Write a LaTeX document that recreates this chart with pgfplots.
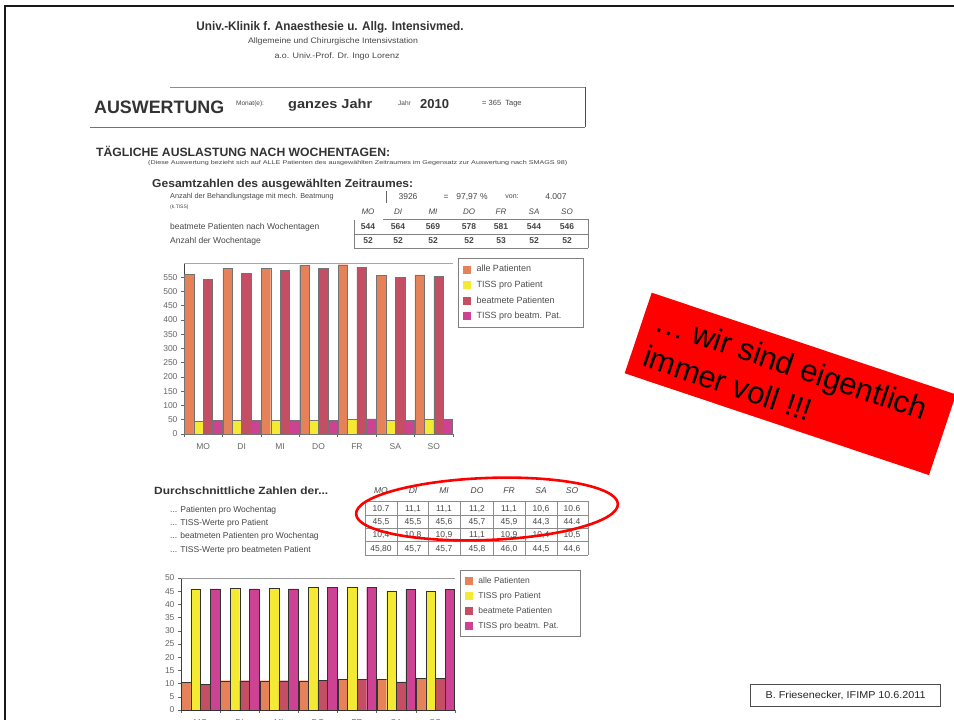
\documentclass[border=0pt]{standalone}
\usepackage{fontspec}
\setmainfont{Liberation Sans}
\usepackage{graphicx}
\usepackage{pgfplots}
\pgfplotsset{compat=1.18}
\definecolor{scan}{RGB}{70,70,70}
\definecolor{orangeC}{RGB}{230,130,90}
\definecolor{yellowC}{RGB}{244,234,52}
\definecolor{roseC}{RGB}{196,78,100}
\definecolor{magentaC}{RGB}{206,66,148}
\newcommand{\fs}[2]{\fontsize{#1}{#2}\selectfont}
\newcommand{\lb}[1]{\makebox[100pt][l]{#1}}
\newcommand{\rw}[2]{\resizebox{#1pt}{\height}{#2}}

\pgfplotsset{
  scanbar/.style={
    scale only axis, anchor=south west,
    xmin=-0.5, xmax=6.5, ymin=0,
    axis x line*=bottom, axis y line*=left,
    axis line style={black!75, line width=0.7pt},
    xtick={-0.5,0.5,...,6.5}, xticklabels={},
    extra x ticks={0,1,2,3,4,5,6},
    extra x tick labels={MO,DI,MI,DO,FR,SA,SO},
    extra x tick style={major tick length=0pt},
    xticklabel style={yshift=-6pt},
    tick align=outside, major tick length=3pt,
    tick style={black!60, line width=0.5pt},
    tick label style={font=\fs{8.5}{10}, text=black!60},
    /pgf/number format/assume math mode=true,
    legend cell align=left,
    clip=false,
  },
  bO/.style={ybar, bar width=0.245, bar shift=-0.3675, fill=orangeC, draw=black!55, line width=0.3pt,
     legend image code/.code={\fill[orangeC] (0pt,-3.5pt) rectangle (7pt,3.5pt); \path (11pt,0pt);}},
  bY/.style={ybar, bar width=0.245, bar shift=-0.1225, fill=yellowC, draw=black!55, line width=0.3pt,
     legend image code/.code={\fill[yellowC] (0pt,-3.5pt) rectangle (7pt,3.5pt); \path (11pt,0pt);}},
  bR/.style={ybar, bar width=0.245, bar shift=0.1225, fill=roseC, draw=black!55, line width=0.3pt,
     legend image code/.code={\fill[roseC] (0pt,-3.5pt) rectangle (7pt,3.5pt); \path (11pt,0pt);}},
  bM/.style={ybar, bar width=0.245, bar shift=0.3675, fill=magentaC, draw=black!55, line width=0.3pt,
     legend image code/.code={\fill[magentaC] (0pt,-3.5pt) rectangle (7pt,3.5pt); \path (11pt,0pt);}},
}

\begin{document}
\begin{tikzpicture}[x=1pt,y=1pt]
\path[use as bounding box] (0,0) rectangle (954,720);
\clip (0,0) rectangle (954,720);
\fill[white] (0,0) rectangle (954,720);
\draw[line width=2.2pt, black!90] (956,714) -- (5,714) -- (5,-2);

\begin{scope}[every node/.style={inner sep=0pt, text=scan}]
% header
\node[text=black!80] at (330,693) {\rw{267}{\fs{12.5}{15}\bfseries Univ.-Klinik f. Anaesthesie u. Allg. Intensivmed.}};
\node at (333,679) {\rw{170}{\fs{8}{9.6}Allgemeine und Chirurgische Intensivstation}};
\node at (337,664) {\rw{125}{\fs{8}{9.6}a.o. Univ.-Prof. Dr. Ingo Lorenz}};
% Auswertung box
\draw[black!45, line width=0.8pt] (170,633) -- (585,633);
\draw[black!55, line width=0.8pt] (90,593) -- (585,593);
\draw[black!70, line width=0.8pt] (585,593) -- (585,633);
\node[anchor=west, text=black!80] at (94,613) {\rw{130}{\fs{18}{21}\bfseries AUSWERTUNG}};
\node[anchor=west] at (236,616) {\fs{6.5}{8}Monat(e):};
\node[anchor=west, text=black!80] at (288,615) {\rw{84}{\fs{13}{15}\bfseries ganzes Jahr}};
\node[anchor=west] at (398,617) {\fs{6.5}{8}Jahr};
\node[anchor=west, text=black!80] at (420,616) {\fs{13}{15}\bfseries 2010};
\node[anchor=west] at (482,616) {\fs{7.5}{9}= 365\ \ Tage};
% Taegliche
\node[anchor=west, text=black!80] at (96,569) {\rw{294}{\fs{12}{14}\bfseries TÄGLICHE AUSLASTUNG NACH WOCHENTAGEN:}};
\node[anchor=west] at (148,557) {\rw{419}{\fs{5.5}{6.5}(Diese Auswertung bezieht sich auf ALLE Patienten des ausgewählten Zeitraumes im Gegensatz zur Auswertung nach SMAGS 98)}};
\node[anchor=west, text=black!80] at (152,535) {\rw{261}{\fs{11.5}{13.5}\bfseries Gesamtzahlen des ausgewählten Zeitraumes:}};
\node[anchor=west] at (170,523) {\fs{7.3}{8.5}Anzahl der Behandlungstage mit mech. Beatmung};
\node[anchor=west] at (170,513) {\fs{5}{6}(k.TISS)};
\draw[black!60, line width=0.6pt] (386,517) -- (386,529);
\node at (408,523) {\fs{8.5}{10}3926};
\node at (446,523) {\fs{8.5}{10}=};
\node at (472,523) {\fs{8.5}{10}97,97 \%};
\node at (512,523) {\fs{7}{8}von:};
\node at (556,523) {\fs{8.5}{10}4.007};
\foreach \d/\x in {MO/368,DI/398,MI/433,DO/469,FR/501,SA/534,SO/567}
  \node at (\x,508) {\fs{8}{9.6}\itshape \d};
\node[anchor=west] at (170,493) {\fs{8.5}{10}beatmete Patienten nach Wochentagen};
\node[anchor=west] at (170,479) {\fs{8.5}{10}Anzahl der Wochentage};
\foreach \v/\x in {544/368,564/398,569/433,578/469,581/501,544/534,546/567}
  \node at (\x,493) {\fs{8.5}{10}\bfseries \v};
\foreach \v/\x in {52/368,52/398,52/433,52/469,53/501,52/534,52/567}
  \node at (\x,479) {\fs{8.5}{10}\bfseries \v};
\draw[black!50, line width=0.6pt] (383,501) -- (588,501) (354,486) -- (588,486) (354,472) -- (588,472)
  (354,472) -- (354,500) (588,472) -- (588,501);
% Durchschnittliche
\node[anchor=west, text=black!80] at (154,229) {\rw{174}{\fs{10.5}{12.5}\bfseries Durchschnittliche Zahlen der...}};
\node[anchor=west] at (170,210) {\fs{8.5}{10}... Patienten pro Wochentag};
\node[anchor=west] at (170,197) {\fs{8.5}{10}... TISS-Werte pro Patient};
\node[anchor=west] at (170,184) {\fs{8.5}{10}... beatmeten Patienten pro Wochentag};
\node[anchor=west] at (170,170) {\fs{8.5}{10}... TISS-Werte pro beatmeten Patient};
\foreach \d/\x in {MO/381,DI/413,MI/444,DO/477,FR/509,SA/541,SO/572}
  \node at (\x,229) {\fs{8.5}{10}\itshape \d};
\foreach \v/\x in {10.7/381,{11,1}/413,{11,1}/444,{11,2}/477,{11,1}/509,{10,6}/541,10.6/572}
  \node at (\x,211) {\fs{8.5}{10}\v};
\foreach \v/\x in {{45,5}/381,{45,5}/413,{45,6}/444,{45,7}/477,{45,9}/509,{44,3}/541,44.4/572}
  \node at (\x,198) {\fs{8.5}{10}\v};
\foreach \v/\x in {{10,4}/381,{10,8}/413,{10,9}/444,{11,1}/477,{10,9}/509,{10,4}/541,{10,5}/572}
  \node at (\x,185) {\fs{8.5}{10}\v};
\foreach \v/\x in {{45,80}/381,{45,7}/413,{45,7}/444,{45,8}/477,{46,0}/509,{44,5}/541,{44,6}/572}
  \node at (\x,171) {\fs{8.5}{10}\v};
\foreach \yy in {219,205,192,179,165}
  \draw[black!45, line width=0.5pt] (365,\yy) -- (588,\yy);
\foreach \xx in {365,397,428,460,493,525,557,588}
  \draw[black!45, line width=0.5pt] (\xx,165) -- (\xx,219);
\end{scope}

% ---- chart 1
\begin{axis}[scanbar, at={(184pt,286pt)}, width=269pt, height=171pt,
  ymax=600, ytick={0,50,...,550},
  legend style={at={(1.0186,1.029)}, anchor=north west, draw=black!50, fill=white,
    font=\fs{9}{10.8}, text=black!70, inner xsep=5pt, inner ysep=5pt, row sep=3.6pt},
]
\draw[black!35, line width=0.8pt] (rel axis cs:0,1) -- (rel axis cs:1,1);
\addplot[bO] coordinates {(0,561) (1,582) (2,582) (3,591) (4,594) (5,556) (6,558)};
\addlegendentry{\lb{alle Patienten}}
\addplot[bY] coordinates {(0,44) (1,48) (2,48) (3,48) (4,51) (5,48) (6,51)};
\addlegendentry{\lb{TISS pro Patient}}
\addplot[bR] coordinates {(0,543) (1,564) (2,574) (3,582) (4,585) (5,550) (6,553)};
\addlegendentry{\lb{beatmete Patienten}}
\addplot[bM] coordinates {(0,47) (1,49) (2,49) (3,49) (4,53) (5,49) (6,52)};
\addlegendentry{\lb{TISS pro beatm. Pat.}}
\end{axis}

% ---- chart 2
\begin{axis}[scanbar, at={(181pt,10pt)}, width=274pt, height=132pt,
  ymax=50, ytick={0,5,...,50},
  legend style={at={(1.018,1.061)}, anchor=north west, draw=black!50, fill=white,
    font=\fs{8.5}{10.2}, text=black!70, inner xsep=5pt, inner ysep=5pt, row sep=3.3pt},
]
\draw[black!40, line width=0.8pt] (rel axis cs:0,1) -- (rel axis cs:1,1);
\addplot[bO, draw=black!80] coordinates {(0,10.6) (1,11.1) (2,11.1) (3,11.1) (4,11.5) (5,11.5) (6,11.9)};
\addlegendentry{\makebox[95pt][l]{alle Patienten}}
\addplot[bY, draw=black!80] coordinates {(0,45.9) (1,46.2) (2,46.2) (3,46.4) (4,46.4) (5,44.9) (6,44.9)};
\addlegendentry{\makebox[95pt][l]{TISS pro Patient}}
\addplot[bR, draw=black!80] coordinates {(0,9.8) (1,11.1) (2,11.1) (3,11.2) (4,11.5) (5,10.7) (6,11.9)};
\addlegendentry{\makebox[95pt][l]{beatmete Patienten}}
\addplot[bM, draw=black!80] coordinates {(0,45.9) (1,45.9) (2,45.9) (3,46.4) (4,46.4) (5,45.7) (6,45.7)};
\addlegendentry{\makebox[95pt][l]{TISS pro beatm. Pat.}}
\end{axis}

% red ellipse
\draw[red, line width=2.6pt, rotate around={2.2:(487,211)}] (487,211) ellipse [x radius=131pt, y radius=31pt];

% banner
\fill[red] (651.7,427.3) -- (956,325.5) -- (929,244.9) -- (624.7,346.7) -- cycle;
\node[rotate=-18.5, anchor=base west, inner sep=0pt, text=black] at (652.9,390)
  {\fs{31}{37.7}\vtop{\baselineskip=37.7pt\hbox{… wir sind eigentlich}\hbox{immer voll !!!}}};

% footer
\draw[black!70, line width=0.6pt] (750.7,13.3) rectangle (940.7,35.7);
\node[text=black!85, inner sep=0pt] at (845.7,24.5) {\rw{160}{\fs{10}{12}B. Friesenecker, IFIMP 10.6.2011}};
\end{tikzpicture}
\end{document}
